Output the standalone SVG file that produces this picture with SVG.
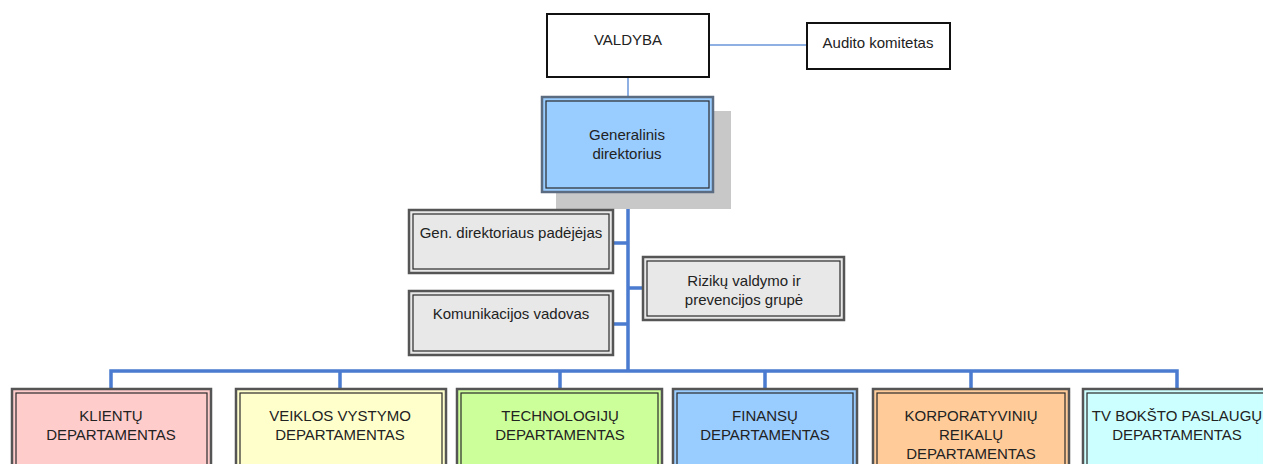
<svg xmlns="http://www.w3.org/2000/svg" width="1263" height="464" viewBox="0 0 1263 464">
<style>
text{font-family:"Liberation Sans",Arial,sans-serif;font-size:15px;fill:#222;text-anchor:middle}
.single{fill:#fff;stroke:#111;stroke-width:2}
.outer{stroke:#555;stroke-width:2.5}
.inner{fill:none;stroke:#2a2a2a;stroke-width:1.2}
.gray{fill:#e8e8e8}
.thin{stroke:#6a96d8;stroke-width:1.5;fill:none}
.thick{stroke:#4a7bd0;stroke-width:3.5;fill:none}
</style>
<g id="connectors">
<path class="thin" d="M710 45H806"/>
<path class="thin" d="M628 78V96"/>
<path class="thick" d="M628 193V371M613 243H628M613 324H628M628 288H643"/>
<path class="thick" d="M111 389V371H1177V389M340 371V389M560 371V389M765 371V389M971 371V389"/>
</g>
<g id="valdyba">
<rect class="single" x="547" y="14" width="162" height="63"/>
<text x="628" y="45">VALDYBA</text>
</g>
<g id="audito">
<rect class="single" x="807" y="23" width="143" height="46"/>
<text x="878" y="48">Audito komitetas</text>
</g>
<g id="gd">
<rect x="556" y="111" width="175" height="98" fill="#c8c8c8"/>
<rect class="outer" x="542" y="97" width="171" height="95" fill="#99ccff" style="stroke:#5b6b80"/>
<rect class="inner" x="546" y="101" width="163" height="87"/>
<text x="627" y="140">Generalinis</text>
<text x="627" y="159">direktorius</text>
</g>
<g id="padejejas">
<rect class="outer gray" x="409" y="210" width="204" height="63"/>
<rect class="inner" x="413" y="214" width="196" height="55"/>
<text x="511" y="238">Gen. direktoriaus padėjėjas</text>
</g>
<g id="komunikacijos">
<rect class="outer gray" x="409" y="291" width="204" height="64"/>
<rect class="inner" x="413" y="295" width="196" height="56"/>
<text x="511" y="319">Komunikacijos vadovas</text>
</g>
<g id="rizikos">
<rect class="outer gray" x="643" y="257" width="201" height="63"/>
<rect class="inner" x="647" y="261" width="193" height="55"/>
<text x="744" y="286">Rizikų valdymo ir</text>
<text x="744" y="305">prevencijos grupė</text>
</g>
<g id="klientu">
<rect class="outer" x="12" y="389" width="199" height="90" fill="#ffcccc"/>
<rect class="inner" x="16" y="393" width="191" height="90"/>
<text x="111" y="421">KLIENTŲ</text>
<text x="111" y="440">DEPARTAMENTAS</text>
</g>
<g id="veiklos">
<rect class="outer" x="236" y="389" width="210" height="90" fill="#ffffcc"/>
<rect class="inner" x="240" y="393" width="202" height="90"/>
<text x="340" y="421">VEIKLOS VYSTYMO</text>
<text x="340" y="440">DEPARTAMENTAS</text>
</g>
<g id="technologiju">
<rect class="outer" x="457" y="389" width="205" height="90" fill="#ccff99"/>
<rect class="inner" x="461" y="393" width="197" height="90"/>
<text x="560" y="421">TECHNOLOGIJŲ</text>
<text x="560" y="440">DEPARTAMENTAS</text>
</g>
<g id="finansu">
<rect class="outer" x="673" y="389" width="184" height="90" fill="#99ccff"/>
<rect class="inner" x="677" y="393" width="176" height="90"/>
<text x="765" y="421">FINANSŲ</text>
<text x="765" y="440">DEPARTAMENTAS</text>
</g>
<g id="korporatyviniu">
<rect class="outer" x="873" y="389" width="196" height="90" fill="#ffcc99"/>
<rect class="inner" x="877" y="393" width="188" height="90"/>
<text x="971" y="421">KORPORATYVINIŲ</text>
<text x="971" y="440">REIKALŲ</text>
<text x="971" y="459">DEPARTAMENTAS</text>
</g>
<g id="tv">
<rect class="outer" x="1083" y="389" width="192" height="90" fill="#ccffff"/>
<rect class="inner" x="1087" y="393" width="184" height="90"/>
<text x="1177" y="421">TV BOKŠTO PASLAUGŲ</text>
<text x="1177" y="440">DEPARTAMENTAS</text>
</g>
</svg>
